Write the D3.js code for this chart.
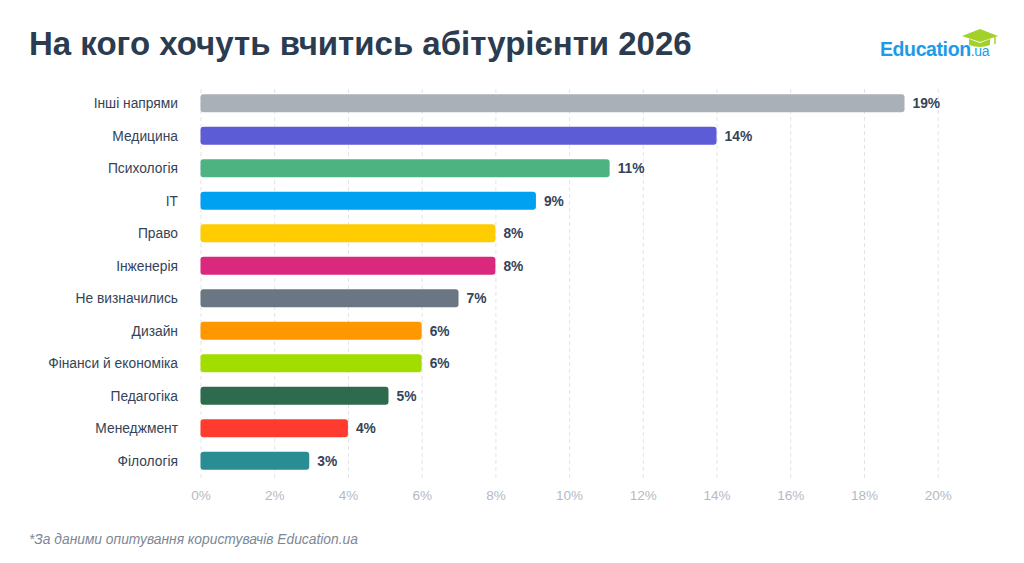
<!DOCTYPE html>
<html>
<head>
<meta charset="utf-8">
<script src="https://cdn.jsdelivr.net/npm/d3@7"></script>
<style>
  body { margin: 0; background: #fff; }
  svg { display: block; }
</style>
</head>
<body>
<svg id="chart"></svg>
<script>
var width = 1024;
var height = 563;

// data
var categories = ["Інші напрями", "Медицина", "Психологія", "IT", "Право", "Інженерія",
                  "Не визначились", "Дизайн", "Фінанси й економіка", "Педагогіка",
                  "Менеджмент", "Філологія"];
var values = [19.1, 14.0, 11.1, 9.1, 8.0, 8.0, 7.0, 6.0, 6.0, 5.1, 4.0, 2.95];
var labels = ["19%", "14%", "11%", "9%", "8%", "8%", "7%", "6%", "6%", "5%", "4%", "3%"];
var colors = ["#aab0b8", "#5c5dd6", "#4db380", "#00a1f1", "#ffcc00", "#da297d",
              "#6a7684", "#ff9800", "#a2dd00", "#2e6a4d", "#ff3b30", "#2a8d94"];
var ticks = [0, 2, 4, 6, 8, 10, 12, 14, 16, 18, 20];

var textColor = "#354357";
var font = "Liberation Sans, Arial, sans-serif";

var svg = d3.select("#chart")
  .attr("width", width)
  .attr("height", height);

// title
svg.append("text")
  .text("На кого хочуть вчитись абітурієнти 2026")
  .attr("x", 29)
  .attr("y", 55)
  .attr("font-family", font)
  .attr("font-size", "33px")
  .attr("font-weight", "bold")
  .attr("fill", "#2b3c51");

// logo
var logo = svg.append("g");

logo.append("text")
  .attr("x", 880)
  .attr("y", 56)
  .attr("font-family", font)
  .attr("fill", "#1d9be8")
  .call(function (t) {
    t.append("tspan").text("Education")
      .attr("font-size", "19.5px")
      .attr("font-weight", "bold")
      .attr("letter-spacing", "-0.4px");
    t.append("tspan").text(".ua")
      .attr("font-size", "14px")
      .attr("letter-spacing", "-0.3px");
  });

// graduation cap
logo.append("path")
  .attr("d", "M962,36 L980,29 L998,36 L980,42 Z")
  .attr("fill", "#a3d12b");
logo.append("path")
  .attr("d", "M969,39 L969,45 Q980,49 990,45 L990,39 L980,43 Z")
  .attr("fill", "#a3d12b");
logo.append("path")
  .attr("d", "M995,37 L995,44")
  .attr("stroke", "#a3d12b")
  .attr("stroke-width", 1.5);

// scales
var x = d3.scaleLinear()
  .domain([0, 20])
  .range([200.5, 937.7]);

var y = d3.scaleBand()
  .domain(categories)
  .range([87, 477])
  .paddingInner(0.446)
  .paddingOuter(0.223);

// grid + tick labels
var xAxis = svg.append("g")
  .attr("transform", "translate(0,478)")
  .call(d3.axisBottom(x)
    .tickValues(ticks)
    .tickFormat(function (d) { return d + "%"; })
    .tickSizeInner(-391)
    .tickSizeOuter(0)
    .tickPadding(10));

xAxis.select(".domain").remove();
xAxis.selectAll(".tick line")
  .attr("stroke", "#e1e4e8")
  .attr("stroke-dasharray", "4,3");
xAxis.selectAll(".tick text")
  .attr("fill", "#b3bac5")
  .attr("font-family", font)
  .attr("font-size", "13.5px")
  .attr("dy", "0.9em");

// category labels
svg.append("g")
  .selectAll("text")
  .data(categories)
  .enter()
  .append("text")
  .text(function (d) { return d; })
  .attr("x", 178)
  .attr("y", function (d) { return y(d) + y.bandwidth() / 2; })
  .attr("dy", ".35em")
  .attr("text-anchor", "end")
  .attr("font-family", font)
  .attr("font-size", "13.8px")
  .attr("fill", textColor);

// bars
svg.append("g")
  .selectAll("rect")
  .data(values)
  .enter()
  .append("rect")
  .attr("x", x(0))
  .attr("y", function (d, i) { return y(categories[i]); })
  .attr("width", function (d) { return x(d) - x(0); })
  .attr("height", y.bandwidth())
  .attr("rx", 3)
  .attr("fill", function (d, i) { return colors[i]; });

// value labels
svg.append("g")
  .selectAll("text")
  .data(values)
  .enter()
  .append("text")
  .text(function (d, i) { return labels[i]; })
  .attr("x", function (d) { return x(d) + 8; })
  .attr("y", function (d, i) { return y(categories[i]) + y.bandwidth() / 2; })
  .attr("dy", ".35em")
  .attr("font-family", font)
  .attr("font-size", "13.8px")
  .attr("font-weight", "bold")
  .attr("fill", textColor);

// footnote
svg.append("text")
  .text("*За даними опитування користувачів Education.ua")
  .attr("x", 29)
  .attr("y", 544)
  .attr("font-family", font)
  .attr("font-size", "13.8px")
  .attr("font-style", "italic")
  .attr("fill", "#7d8795");
</script>
</body>
</html>
